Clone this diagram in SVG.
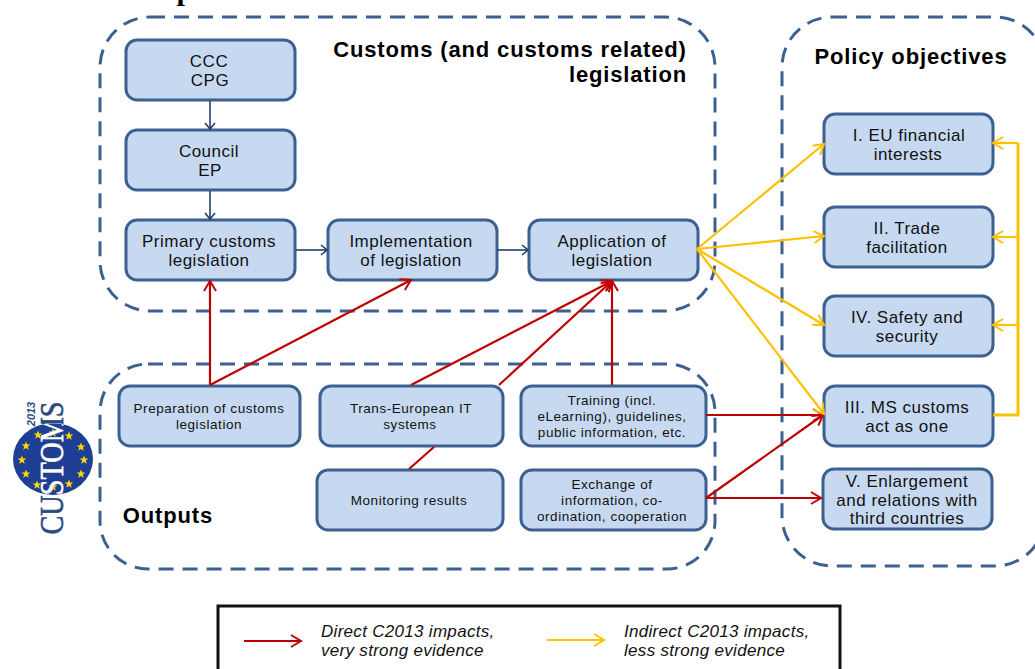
<svg xmlns="http://www.w3.org/2000/svg" width="1035" height="669" viewBox="0 0 1035 669">
<defs>
<marker id="ar" markerUnits="userSpaceOnUse" markerWidth="14" markerHeight="16" refX="11" refY="7" orient="auto" overflow="visible"><path d="M1 1L11 7L1 13" fill="none" stroke="#c00000" stroke-width="2"/></marker>
<marker id="ay" markerUnits="userSpaceOnUse" markerWidth="14" markerHeight="16" refX="11" refY="7" orient="auto" overflow="visible"><path d="M1 1L11 7L1 13" fill="none" stroke="#ffc000" stroke-width="2"/></marker>
<marker id="ab" markerUnits="userSpaceOnUse" markerWidth="14" markerHeight="16" refX="7" refY="5" orient="auto" overflow="visible"><path d="M1 0L7 5L1 10" fill="none" stroke="#1f3f66" stroke-width="1.6"/></marker>
<clipPath id="disc"><ellipse cx="53" cy="459" rx="40" ry="36"/></clipPath>
<path id="st" d="M0-4.5L1.2-1.4L4.4-1.4L1.8.6L2.8 3.8L0 1.9L-2.8 3.8L-1.8.6L-4.4-1.4L-1.2-1.4Z" fill="#ffd800"/>
</defs>
<style>
text{font-family:"Liberation Sans",Arial,sans-serif;fill:#111;text-anchor:middle}
.n rect{fill:#c6d9f1;stroke:#3c6191;stroke-width:3}
.big{font-size:17px;letter-spacing:.5px}
.sm{font-size:13.5px;letter-spacing:.55px}
.b{font-weight:bold;font-size:22px;letter-spacing:.85px;fill:#000}
.leg{font-size:17px;letter-spacing:.3px;font-style:italic;text-anchor:start}
.dash{fill:none;stroke:#3c6191;stroke-width:3;stroke-dasharray:15 9}
.r{fill:none;stroke:#c00000;stroke-width:2.2}
.y{fill:none;stroke:#ffc000;stroke-width:2.2}
.k{fill:none;stroke:#1f3f66;stroke-width:1.6}
.cu{font-family:"Liberation Serif",serif;font-size:33px;stroke-width:.6}
</style>
<rect width="1035" height="669" fill="#fff"/>
<text x="193" y="0" style="font-family:'Liberation Serif',serif;font-weight:bold;font-size:30px;letter-spacing:1px;fill:#000">Impacts</text>
<g id="containers">
<rect class="dash" x="100" y="17" width="615" height="294" rx="50"/>
<rect class="dash" x="100" y="364" width="615" height="205" rx="48"/>
<rect class="dash" x="782" y="17" width="263" height="549" rx="50"/>
</g>
<g id="logo">
<ellipse cx="53" cy="459" rx="40" ry="36" fill="#1f3f94"/>
<use href="#st" x="53" y="433"/><use href="#st" x="38" y="435"/><use href="#st" x="69" y="436"/><use href="#st" x="26" y="446"/><use href="#st" x="81" y="447"/><use href="#st" x="22" y="460"/><use href="#st" x="84" y="460"/><use href="#st" x="26" y="474"/><use href="#st" x="81" y="474"/><use href="#st" x="37" y="485"/><use href="#st" x="69" y="484"/><use href="#st" x="53" y="487"/>
<text class="cu" transform="translate(63,468) rotate(-90)" style="fill:#2a4a80;stroke:#2a4a80" textLength="133" lengthAdjust="spacingAndGlyphs">CUSTOMS</text>
<g clip-path="url(#disc)"><text class="cu" transform="translate(63,468) rotate(-90)" style="fill:#fff;stroke:#fff" textLength="133" lengthAdjust="spacingAndGlyphs">CUSTOMS</text></g>
<text transform="translate(35,414) rotate(-90)" style="font-size:11px;font-weight:bold;font-style:italic;fill:#2a4a80">2013</text>
</g>
<g id="n-ccc" class="n"><rect x="126" y="40" width="169" height="60" rx="11"/><text class="big" x="209" y="67">CCC</text><text class="big" x="210" y="86">CPG</text></g>
<g id="n-council" class="n"><rect x="126" y="130" width="169" height="60" rx="11"/><text class="big" x="209" y="157">Council</text><text class="big" x="210" y="176">EP</text></g>
<g id="n-primary" class="n"><rect x="126" y="220" width="169" height="60" rx="11"/><text class="big" x="209" y="247">Primary customs</text><text class="big" x="209" y="266">legislation</text></g>
<g id="n-impl" class="n"><rect x="328" y="220" width="169" height="60" rx="11"/><text class="big" x="411" y="247">Implementation</text><text class="big" x="411" y="266">of legislation</text></g>
<g id="n-app" class="n"><rect x="529" y="220" width="169" height="60" rx="11"/><text class="big" x="612" y="247">Application of</text><text class="big" x="612" y="266">legislation</text></g>
<g id="n-prep" class="n"><rect x="119" y="386" width="181" height="60" rx="11"/><text class="sm" x="209" y="413">Preparation of customs</text><text class="sm" x="209" y="429">legislation</text></g>
<g id="n-trans" class="n"><rect x="320" y="386" width="183" height="60" rx="11"/><text class="sm" x="411" y="413">Trans-European IT</text><text class="sm" x="410" y="429">systems</text></g>
<g id="n-train" class="n"><rect x="521" y="386" width="185" height="60" rx="11"/><text class="sm" x="612" y="405">Training (incl.</text><text class="sm" x="612" y="421">eLearning), guidelines,</text><text class="sm" x="612" y="437">public information, etc.</text></g>
<g id="n-mon" class="n"><rect x="317" y="470" width="186" height="60" rx="11"/><text class="sm" x="409" y="505">Monitoring results</text></g>
<g id="n-exch" class="n"><rect x="521" y="470" width="185" height="60" rx="11"/><text class="sm" x="612" y="489">Exchange of</text><text class="sm" x="612" y="505">information, co-</text><text class="sm" x="612" y="521">ordination, cooperation</text></g>
<g id="n-i" class="n"><rect x="824" y="114" width="169" height="60" rx="11"/><text class="big" x="909" y="141">I. EU financial</text><text class="big" x="908" y="160">interests</text></g>
<g id="n-ii" class="n"><rect x="824" y="207" width="169" height="60" rx="11"/><text class="big" x="907" y="234">II. Trade</text><text class="big" x="907" y="253">facilitation</text></g>
<g id="n-iv" class="n"><rect x="824" y="296" width="169" height="60" rx="11"/><text class="big" x="907" y="323">IV. Safety and</text><text class="big" x="907" y="342">security</text></g>
<g id="n-iii" class="n"><rect x="824" y="386" width="169" height="60" rx="11"/><text class="big" x="907" y="413">III. MS customs</text><text class="big" x="907" y="432">act as one</text></g>
<g id="n-v" class="n"><rect x="823" y="469" width="169" height="60" rx="11"/><text class="big" x="907" y="487">V. Enlargement</text><text class="big" x="907" y="506">and relations with</text><text class="big" x="907" y="524">third countries</text></g>
<g id="connectors">
<path class="k" d="M210 101V129" marker-end="url(#ab)"/>
<path class="k" d="M210 191V219" marker-end="url(#ab)"/>
<path class="k" d="M296 250H327" marker-end="url(#ab)"/>
<path class="k" d="M497 250H528" marker-end="url(#ab)"/>
<path class="r" d="M210 385V281" marker-end="url(#ar)"/>
<path class="r" d="M210 385L411 280" marker-end="url(#ar)"/>
<path class="r" d="M411 385L612 281" marker-end="url(#ar)"/>
<path class="r" d="M409 469L434 447"/>
<path class="r" d="M499 385L612 281" marker-end="url(#ar)"/>
<path class="r" d="M612 385V281" marker-end="url(#ar)"/>
<path class="r" d="M706 415H823" marker-end="url(#ar)"/>
<path class="r" d="M706 498L823 415" marker-end="url(#ar)"/>
<path class="r" d="M706 498H821" marker-end="url(#ar)"/>
<path class="y" d="M697 249L824 144" marker-end="url(#ay)"/>
<path class="y" d="M697 249L824 236" marker-end="url(#ay)"/>
<path class="y" d="M697 249L824 325" marker-end="url(#ay)"/>
<path class="y" d="M697 249L824 414" marker-end="url(#ay)"/>
<path class="y" style="stroke-width:3" d="M993 415H1018V143"/>
<path class="y" d="M1018 143H993" marker-end="url(#ay)"/>
<path class="y" d="M1018 237H993" marker-end="url(#ay)"/>
<path class="y" d="M1018 325H993" marker-end="url(#ay)"/>
</g>
<text class="b" x="510" y="57">Customs (and customs related)</text>
<text class="b" x="628" y="82">legislation</text>
<text class="b" x="911" y="64">Policy objectives</text>
<text class="b" x="168" y="523">Outputs</text>
<g id="legend">
<rect x="218" y="606" width="622" height="70" fill="#fff" stroke="#111" stroke-width="3"/>
<path class="r" d="M244 641H301" marker-end="url(#ar)"/>
<path class="y" d="M547 640H604" marker-end="url(#ay)"/>
<text class="leg" x="321" y="637">Direct C2013 impacts,</text>
<text class="leg" x="321" y="656">very strong evidence</text>
<text class="leg" x="624" y="637">Indirect C2013 impacts,</text>
<text class="leg" x="624" y="656">less strong evidence</text>
</g>
</svg>
